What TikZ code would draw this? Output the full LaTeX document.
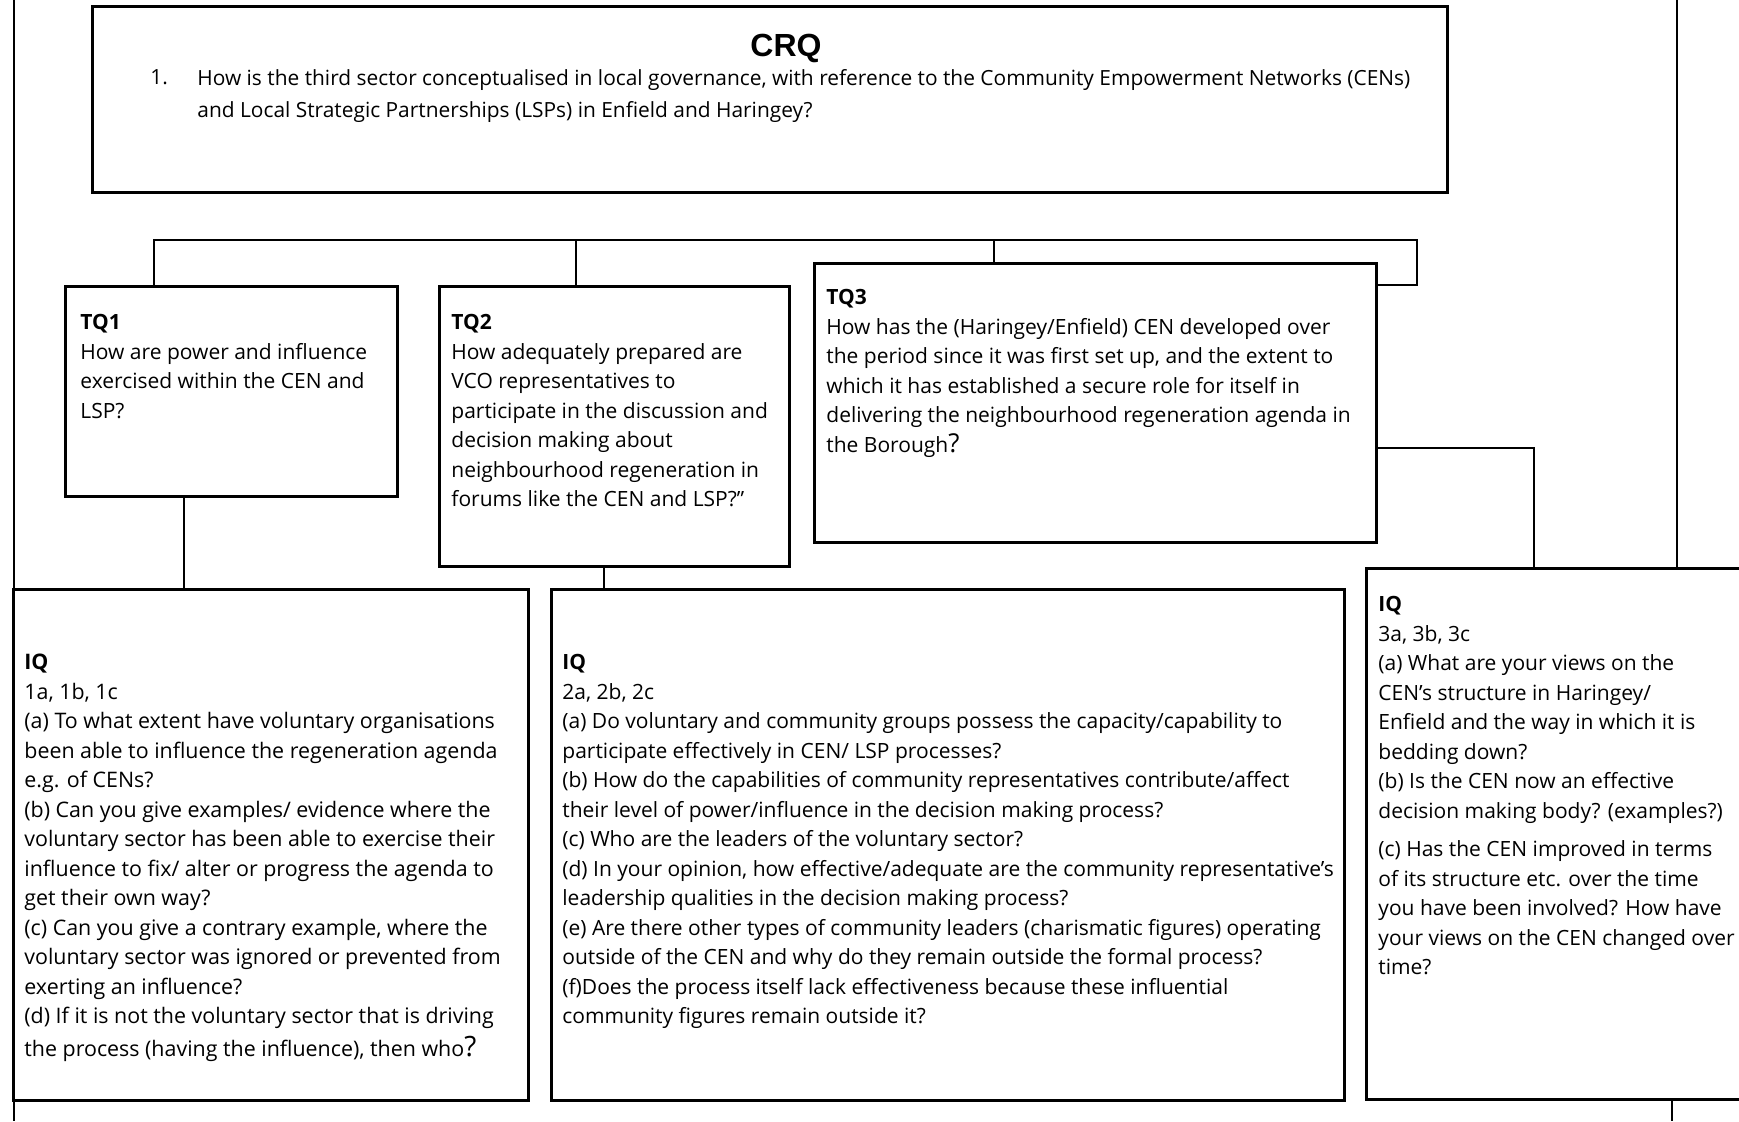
\documentclass[tikz,border=0pt]{standalone}
\usepackage{fontspec}
\setmainfont{Open Sans}
\newfontfamily\titlefont{Liberation Sans}
\usetikzlibrary{fit}

\begin{document}
\begin{tikzpicture}[x=0.5pt,y=-0.5pt,
  qbox/.style={draw, line width=1.5pt, inner sep=0pt},
  link/.style={line width=1pt},
  frame/.style={line width=0.8pt},
  txt/.style={anchor=north west, align=left, inner sep=0pt,
              font=\fontsize{10.5}{14.75}\selectfont}]

% page area
\fill[white] (0,0) rectangle (1739,1121);
\clip (0,0) rectangle (1739,1121);

% outer frame lines
\draw[frame] (14,0) -- (14,1121);
\draw[frame] (1677,0) -- (1677,568);
\draw[frame] (1672,1099) -- (1672,1121);

% central research question
\node[qbox, fit={(92,6) (1447,192)}] (crq) {};
\node[anchor=base, inner sep=0pt, font=\titlefont\bfseries\fontsize{16}{19}\selectfont] (crqtitle) at (786,56) {CRQ};
\node[anchor=base west, inner sep=0pt, font=\fontsize{10.45}{16}\selectfont] (crqnum) at (150,84) {1.};
\node[txt, font=\fontsize{10.45}{16}\selectfont] (crqtext) at (197,69)
  {How is the third sector conceptualised in local governance, with reference to the Community Empowerment Networks (CENs)\\
   and Local Strategic Partnerships (LSPs) in Enfield and Haringey?};

% theoretical questions
\node[qbox, fit={(65,286) (397,496)}] (tq1) {};
\node[qbox, fit={(439,286) (789,566)}] (tq2) {};
\node[qbox, fit={(814,263) (1376,542)}] (tq3) {};

\node[txt] (tq1text) at (80,314)
  {\textbf{TQ1}\\
   How are power and influence\\
   exercised within the CEN and\\
   LSP?};
\node[txt] (tq2text) at (451,314)
  {\textbf{TQ2}\\
   How adequately prepared are\\
   VCO representatives to\\
   participate in the discussion and\\
   decision making about\\
   neighbourhood regeneration in\\
   forums like the CEN and LSP?"};
\node[txt] (tq3text) at (826,289)
  {\textbf{TQ3}\\
   How has the (Haringey/Enfield) CEN developed over\\
   the period since it was first set up, and the extent to\\
   which it has established a secure role for itself in\\
   delivering the neighbourhood regeneration agenda in\\
   the Borough{\fontsize{13}{14}\selectfont ?}};

% interview questions
\node[qbox, fit={(13,589) (528,1100)}] (iq1) {};
\node[qbox, fit={(551,589) (1344,1100)}] (iq2) {};
\node[qbox, fit={(1366,568) (1760,1099)}] (iq3) {};

\node[txt, font=\fontsize{10.7}{14.75}\selectfont] (iq1text) at (24,654)
  {\textbf{IQ}\\
   1a,\ 1b,\ 1c\\
   (a) To what extent have voluntary organisations\\
   been able to influence the regeneration agenda\\
   e.g. of CENs?\\
   (b) Can you give examples/ evidence where the\\
   voluntary sector has been able to exercise their\\
   influence to fix/ alter or progress the agenda to\\
   get their own way?\\
   (c) Can you give a contrary example, where the\\
   voluntary sector was ignored or prevented from\\
   exerting an influence?\\
   (d) If it is not the voluntary sector that is driving\\[1.5pt]
   the process (having the influence), then who{\fontsize{14}{15}\selectfont ?}};

\node[txt] (iq2text) at (562,654)
  {\textbf{IQ}\\
   2a, 2b, 2c\\
   (a) Do voluntary and community groups possess the capacity/capability to\\
   participate effectively in CEN/ LSP processes?\\
   (b) How do the capabilities of community representatives contribute/affect\\
   their level of power/influence in the decision making process?\\
   (c) Who are the leaders of the voluntary sector?\\
   (d) In your opinion, how effective/adequate are the community representative's\\
   leadership qualities in the decision making process?\\
   (e) Are there other types of community leaders (charismatic figures) operating\\
   outside of the CEN and why do they remain outside the formal process?\\
   (f)Does the process itself lack effectiveness because these influential\\
   community figures remain outside it?};

\node[txt] (iq3text) at (1378,596)
  {\textbf{IQ}\\
   3a,\ 3b,\ 3c\\
   (a) What are your views on the\\
   CEN's structure in Haringey/\\
   Enfield and the way in which it is\\
   bedding down?\\
   (b) Is the CEN now an effective\\
   decision making body? (examples?)\\[4.5pt]
   (c) Has the CEN improved in terms\\
   of its structure etc. over the time\\
   you have been involved? How have\\
   your views on the CEN changed over\\
   time?};

% connectors from the shared bar to the three TQ boxes
\coordinate (barL) at (154,240);
\coordinate (barR) at (1417,240);
\coordinate (barRd) at (1417,285);
\coordinate (b2) at (576,240);
\coordinate (b3) at (994,240);
\draw[link] (barL |- tq1.north) -- (barL) -- (barR) -- (barRd) -- (barRd -| tq3.east);
\draw[link] (b2) -- (b2 |- tq2.north);
\draw[link] (b3) -- (b3 |- tq3.north);

% connectors from each TQ box down to its IQ box
\coordinate (k1) at (184,0);
\coordinate (k2) at (604,0);
\coordinate (k3) at (1534,448);
\draw[link] (k1 |- tq1.south) -- (k1 |- iq1.north);
\draw[link] (k2 |- tq2.south) -- (k2 |- iq2.north);
\draw[link] (k3 -| tq3.east) -- (k3) -- (k3 |- iq3.north);

\end{tikzpicture}
\end{document}
